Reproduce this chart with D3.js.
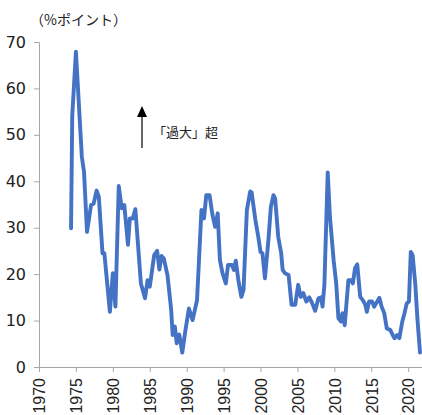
<!DOCTYPE html>
<html>
<head>
<meta charset="utf-8">
<script src="https://cdn.jsdelivr.net/npm/d3@7"></script>
<style>
  body { margin: 0; background: #fff; }
  svg { display: block; font-family: "DejaVu Sans", Verdana, sans-serif; }
</style>
</head>
<body>
<svg id="chart" width="422" height="415"></svg>
<script>
// values (decimal year, %pt)
const years = [
    1974.34, 1974.5, 1975.0, 1975.8, 1976.1, 1976.5, 1977.05, 1977.4, 1977.8, 1978.1,
    1978.6, 1978.85, 1979.6, 1980.0, 1980.35, 1980.8, 1981.2, 1981.55, 1982.05, 1982.3,
    1982.7, 1983.05, 1983.8, 1984.36, 1984.7, 1985.0, 1985.6, 1986.0, 1986.3, 1986.6,
    1986.9, 1987.4, 1987.9, 1988.1, 1988.4, 1988.65, 1989.0, 1989.4, 1989.8, 1990.3,
    1990.8, 1991.4, 1992.0, 1992.35, 1992.65, 1993.1, 1993.5, 1993.85, 1994.2, 1994.5,
    1994.85, 1995.3, 1995.6, 1996.1, 1996.4, 1996.65, 1997.0, 1997.4, 1997.7, 1998.15,
    1998.6, 1998.8, 1999.3, 1999.7, 2000.0, 2000.26, 2000.6, 2001.07, 2001.4, 2001.75,
    2001.98, 2002.4, 2002.8, 2003.0, 2003.3, 2003.8, 2004.2, 2004.7, 2005.1, 2005.45,
    2005.8, 2006.2, 2006.6, 2007.0, 2007.4, 2007.85, 2008.2, 2008.4, 2008.65, 2009.1,
    2009.4, 2009.9, 2010.25, 2010.55, 2010.9, 2011.1, 2011.4, 2011.9, 2012.2, 2012.5,
    2012.8, 2013.1, 2013.5, 2013.85, 2014.2, 2014.4, 2014.7, 2015.1, 2015.4, 2015.8,
    2016.1, 2016.4, 2016.75, 2017.1, 2017.56, 2017.9, 2018.15, 2018.5, 2018.8, 2019.2,
    2019.5, 2019.8, 2020.1, 2020.35, 2020.6, 2020.95, 2021.26, 2021.6
];
const gapValues = [
    29.9, 54, 67.9, 45.3, 42, 29.1, 34.9, 35.2, 38, 36.7,
    24.5, 24.5, 11.9, 20.2, 13, 39, 34.2, 34.9, 26.3, 32,
    32, 34, 18, 14.8, 18.7, 17.3, 24.1, 25, 21, 23.9,
    23.4, 19.8, 12.3, 6.9, 8.7, 5.1, 7, 3.1, 7.6, 12.6,
    10.1, 14.4, 33.8, 32, 37, 37, 32.7, 30.2, 33.1, 23,
    20.2, 18, 22, 22, 20.9, 22.9, 18.7, 15.1, 16.6, 33.8,
    37.8, 37.6, 31.7, 28, 24.8, 24.5, 19.1, 27.4, 34.5, 37,
    36.3, 28, 24.5, 20.9, 20.2, 19.8, 13.4, 13.4, 17.7, 15.1,
    15.9, 14.1, 15, 13.7, 12.1, 14.8, 15, 13, 17.7, 41.9,
    32.4, 23, 18, 10.5, 9.8, 11.6, 9, 18.7, 18.7, 18,
    21.3, 22.1, 15.1, 14.4, 13.4, 11.9, 14.1, 14.1, 13, 14.1,
    14.9, 13, 11.6, 8.3, 8, 6.9, 6.2, 6.9, 6.2, 9.8,
    11.6, 13.7, 14.1, 24.8, 24.1, 18, 10.1, 3.1
];
const yTicks = [0, 10, 20, 30, 40, 50, 60, 70];
const xTicks = [1970, 1975, 1980, 1985, 1990, 1995, 2000, 2005, 2010, 2015, 2020];
const unitLabel = "（%ポイント）";
const noteLabel = "「過大」超";

const svg = d3.select("#chart");
const axisColor = "#a6a6a6";

const x = d3.scaleLinear().domain([1970, 2021.8]).range([39, 421.5]);
const y = d3.scaleLinear().domain([0, 70]).range([367, 42]);

// y axis
const yAxis = svg.append("g")
    .attr("transform", "translate(39,0)")
    .call(d3.axisLeft(y).tickValues(yTicks).tickSize(5).tickPadding(8));
yAxis.select(".domain").attr("stroke", axisColor);
yAxis.selectAll(".tick line").attr("stroke", axisColor);
yAxis.selectAll(".tick text")
    .attr("font-size", "16px")
    .attr("fill", "#222")
    .attr("font-family", "DejaVu Sans, sans-serif");

// x axis
const xAxis = svg.append("g")
    .attr("transform", "translate(0,367)")
    .call(d3.axisBottom(x).tickValues(xTicks).tickFormat(d3.format("d")).tickSize(5).tickSizeOuter(0));
xAxis.select(".domain").attr("stroke", axisColor);
xAxis.selectAll(".tick line").attr("stroke", axisColor);
xAxis.selectAll(".tick text")
    .attr("font-size", "16px")
    .attr("fill", "#222")
    .attr("transform", "rotate(-90)")
    .attr("text-anchor", "end")
    .attr("x", -11)
    .attr("y", 0)
    .attr("dy", "0.36em");

// line
const line = d3.line()
    .x((d, i) => x(years[i]))
    .y(d => y(d))
    .curve(d3.curveLinear);

svg.append("path")
    .datum(gapValues)
    .attr("fill", "none")
    .attr("stroke", "#4472C4")
    .attr("stroke-width", 3.9)
    .attr("stroke-linejoin", "round")
    .attr("stroke-linecap", "round")
    .attr("d", line);

// unit label
svg.append("text")
    .attr("x", 30)
    .attr("y", 25)
    .attr("font-size", "14px")
    .attr("font-family", "Noto Sans CJK JP, sans-serif")
    .attr("fill", "#222")
    .text(unitLabel);

// arrow annotation
svg.append("line")
    .attr("x1", 142).attr("x2", 142)
    .attr("y1", 148).attr("y2", 114)
    .attr("stroke", "#000")
    .attr("stroke-width", 1.2);
svg.append("path")
    .attr("d", "M142,106 L137,117 L147,117 Z")
    .attr("fill", "#000");
svg.append("text")
    .attr("x", 153)
    .attr("y", 137)
    .attr("font-size", "13px")
    .attr("font-family", "Noto Sans CJK JP, sans-serif")
    .attr("fill", "#222")
    .text(noteLabel);
</script>
</body>
</html>
